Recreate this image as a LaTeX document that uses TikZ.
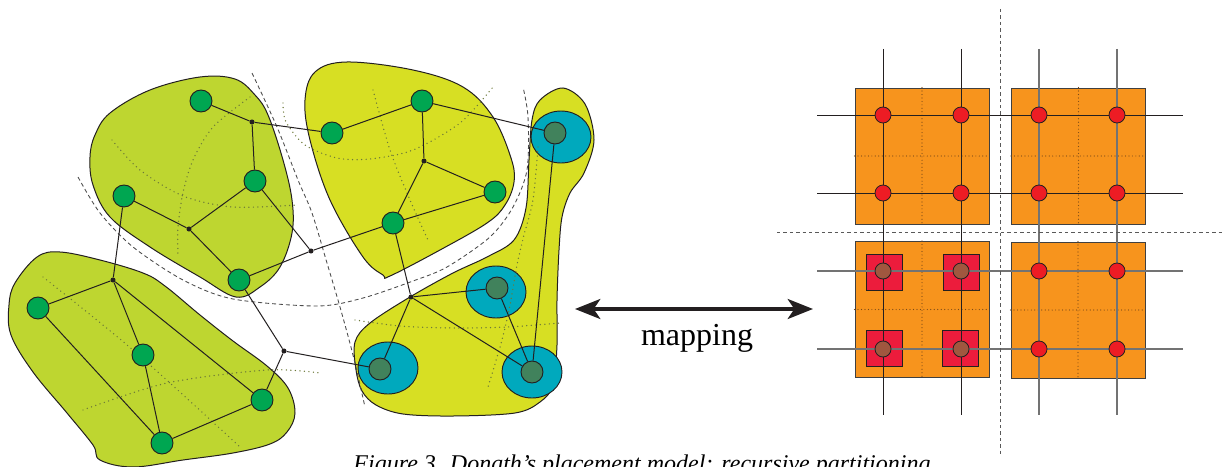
\documentclass[tikz,border=0pt]{standalone}
\usepackage{fontspec}
\setmainfont{Liberation Serif}
\usetikzlibrary{shapes.geometric,arrows.meta}

\definecolor{limeblob}{HTML}{BED630}
\definecolor{yelblob}{HTML}{D7DF23}
\definecolor{nodegreen}{HTML}{00A651}
\definecolor{tealring}{HTML}{00A9BD}
\definecolor{darkcore}{HTML}{41825C}
\definecolor{gridorange}{HTML}{F7941D}
\definecolor{pinred}{HTML}{ED1C24}
\definecolor{cellred}{HTML}{EC1C3C}
\definecolor{corebrown}{HTML}{A0573F}
\definecolor{inkline}{HTML}{231F20}
\definecolor{cutdot}{HTML}{6C7838}
\definecolor{celldot}{HTML}{7A4A18}

\tikzset{
  blobline/.style={draw=inkline, line width=0.75pt},
  cutdash/.style={draw=black!70, line width=0.65pt, dash pattern=on 3pt off 2.2pt},
  cutdots/.style={draw=cutdot, line width=1.1pt, line cap=round, dash pattern=on 0pt off 3.4pt},
  celldots/.style={draw=celldot, line width=0.9pt, line cap=round, dash pattern=on 0pt off 2.6pt},
  wire/.style={draw=inkline, line width=0.75pt},
  gnode/.style={circle, fill=nodegreen, draw=inkline, line width=0.7pt, minimum size=16.5pt, inner sep=0pt},
  jnode/.style={circle, fill=inkline, minimum size=3.8pt, inner sep=0pt},
  ring/.style={ellipse, fill=tealring, draw=inkline, line width=0.7pt, minimum width=45pt, minimum height=39pt, inner sep=0pt},
  core/.style={circle, fill=darkcore, draw=inkline, line width=0.7pt, minimum size=16.5pt, inner sep=0pt},
  cell/.style={rectangle, fill=gridorange, draw=black!75, line width=0.7pt, minimum width=100.5pt, minimum height=102pt, inner sep=0pt},
  pin/.style={circle, fill=pinred, draw=inkline, line width=0.6pt, minimum size=12pt, inner sep=0pt},
  bpin/.style={circle, fill=corebrown, draw=inkline, line width=0.6pt, minimum size=12pt, inner sep=0pt},
  slot/.style={rectangle, fill=cellred, draw=inkline, line width=0.6pt, minimum size=27pt, inner sep=0pt},
  darkrail/.style={draw=inkline, line width=0.75pt},
  greyrail/.style={draw=black!55, line width=0.9pt},
  griddash/.style={draw=black!65, line width=0.65pt, dash pattern=on 2.6pt off 2.2pt},
}

\begin{document}
\begin{tikzpicture}[x=0.75pt,y=-0.75pt]
\clip (0,0) rectangle (1230,467);
\fill[white] (0,0) rectangle (1230,467);

% ---------- partitioned netlist ----------
% clusters
\draw[blobline, fill=limeblob] plot[smooth cycle, tension=0.6] coordinates {
  (110,113) (150,90) (200,77) (235,79) (255,95) (268,115) (283,160) (292,200)
  (292,233) (280,267) (260,287) (236,297) (200,277) (150,247) (110,217)
  (93,185) (90,157) (95,135)};
\draw[blobline, fill=limeblob] plot[smooth cycle, tension=0.6] coordinates {
  (37,257) (60,252) (100,260) (143,273) (165,286) (200,315) (233,341) (267,366)
  (288,388) (295,413) (287,432) (270,444) (233,453) (183,460) (133,467)
  (100,460) (93,445) (67,413) (33,372) (11,335) (9,305) (15,283)};
\draw[blobline, fill=yelblob] plot[smooth cycle, tension=0.6] coordinates {
  (305,100) (315,72) (347,62) (413,70) (463,87) (493,117) (511,158) (514,182)
  (505,205) (487,223) (440,250) (390,276) (383,275) (363,257) (330,200)
  (310,140)};
\draw[blobline, fill=yelblob] plot[smooth cycle, tension=0.55] coordinates {
  (540,100) (563,88) (585,104) (594,140) (584,173) (570,193) (562,217)
  (559,250) (557,300) (557,345) (553,385) (540,402) (515,413) (453,416)
  (403,414) (376,405) (362,391) (356,370) (355,342) (370,323) (410,297)
  (453,273) (487,257) (514,240) (526,208) (529,160) (532,120)};

% inner terminals of the right cluster
\node[ring] (e1) at (561,137) {};
\node[ring] (e2) at (496,292) {};
\node[ring] (e3) at (388,368) {};
\node[ring] (e4) at (532,372) {};

% second-level cut lines
\draw[cutdots] plot[smooth] coordinates {(112,140) (140,170) (183,196) (233,207) (297,205)};
\draw[cutdots] plot[smooth] coordinates {(250,97) (213,127) (193,160) (183,193) (178,227) (178,257)};
\draw[cutdots] plot[smooth] coordinates {(283,103) (286,122) (305,145) (337,158) (370,159) (413,150) (460,123) (493,87)};
\draw[cutdots] plot[smooth] coordinates {(373,90) (390,150) (410,200) (428,240)};
\draw[cutdots] plot[smooth] coordinates {(43,277) (133,350) (240,447)};
\draw[cutdots] plot[smooth] coordinates {(83,410) (167,383) (267,370) (320,373)};
\draw[cutdots] plot[smooth] coordinates {(355,320) (400,326) (453,328) (507,327) (560,323)};
\draw[cutdots] plot[smooth] coordinates {(538,147) (533,200) (524,235) (517,265) (510,305) (502,340) (488,387)};

% first-level cut lines
\draw[cutdash] plot[smooth] coordinates {(78,177) (100,213) (133,247) (183,280) (233,299)
  (317,306) (363,298) (413,281) (447,267) (490,237) (513,207) (527,170) (528,117) (523,87)};
\draw[cutdash] plot[smooth] coordinates {(252,73) (277,127) (298,180) (312,213) (327,263)
  (340,307) (353,355) (365,407)};

% cells
\node[gnode] (g1) at (201,101) {};
\node[gnode] (g2) at (332,133) {};
\node[gnode] (g3) at (422,101) {};
\node[gnode] (g4) at (255,181) {};
\node[gnode] (g5) at (124,196) {};
\node[gnode] (g6) at (495,192) {};
\node[gnode] (g7) at (393,223) {};
\node[gnode] (g8) at (239,280) {};
\node[gnode] (g9) at (38,308) {};
\node[gnode] (g10) at (143,355) {};
\node[gnode] (g11) at (262,400) {};
\node[gnode] (g12) at (162,443) {};
\node[core] (t1) at (555,133) {};
\node[core] (t2) at (497,288) {};
\node[core] (t3) at (380,369) {};
\node[core] (t4) at (532,372) {};

% net junctions
\node[jnode] (j1) at (252,122) {};
\node[jnode] (j2) at (189,229) {};
\node[jnode] (j3) at (311,251) {};
\node[jnode] (j4) at (113,280) {};
\node[jnode] (j5) at (284,351) {};
\node[jnode] (j6) at (424,161) {};
\node[jnode] (j7) at (411,297) {};

% nets
\draw[wire] (g1) -- (j1) -- (g2);
\draw[wire] (j1) -- (g4);
\draw[wire] (g4) -- (j2);
\draw[wire] (g5) -- (j2) -- (g8);
\draw[wire] (g4) -- (j3);
\draw[wire] (g8) -- (j3) -- (g7);
\draw[wire] (g5) -- (j4) -- (g9);
\draw[wire] (j4) -- (g10);
\draw[wire] (j4) -- (g11);
\draw[wire] (g9) -- (g12);
\draw[wire] (g10) -- (g12);
\draw[wire] (g12) -- (g11);
\draw[wire] (g11) -- (j5);
\draw[wire] (g8) -- (j5) -- (t3);
\draw[wire] (g2) -- (g3);
\draw[wire] (g3) -- (j6) -- (g6);
\draw[wire] (j6) -- (g7);
\draw[wire] (g7) -- (g6);
\draw[wire] (g3) -- (t1);
\draw[wire] (g7) -- (j7) -- (t2);
\draw[wire] (j7) -- (t3);
\draw[wire] (j7) -- (t4);
\draw[wire] (t2) -- (t4);
\draw[wire] (t1) -- (t4);

% ---------- mapping arrow ----------
\coordinate (mapL) at (575,309);
\coordinate (mapR) at (813,309);
\draw[draw=inkline, line width=2.6pt, {Stealth[length=19pt,width=15pt,inset=5pt]}-{Stealth[length=19pt,width=15pt,inset=5pt]}] (mapL) -- (mapR);
\node[anchor=base, font=\fontsize{24}{28}\selectfont, inner sep=0pt] (maplbl) at (697,345) {mapping};

% ---------- slot array ----------
\node[cell] (c11) at (922,156) {};
\node[cell] (c12) at (1078.5,156) {};
\node[cell] (c21) at (922,309.5) {};
\node[cell] (c22) at (1078,310) {};
\foreach \c in {c11,c12,c21,c22}{
  \draw[celldots] (\c.north) -- (\c.south);
  \draw[celldots] (\c.west) -- (\c.east);
}

\node[slot] (s1) at (884,272) {};
\node[slot] (s2) at (961.5,272) {};
\node[slot] (s3) at (884.5,348) {};
\node[slot] (s4) at (960.5,348.5) {};

% rails
\coordinate (v1n) at (883,49);  \coordinate (v1s) at (883,415);
\coordinate (v2n) at (961,49);  \coordinate (v2s) at (961,415);
\coordinate (v3n) at (1039,49); \coordinate (v3s) at (1039,415);
\coordinate (v4n) at (1117,49); \coordinate (v4s) at (1117,415);
\coordinate (h1w) at (817,115); \coordinate (h1e) at (1183,115);
\coordinate (h2w) at (817,193); \coordinate (h2e) at (1183,193);
\coordinate (h3w) at (817,271); \coordinate (h3e) at (1183,271);
\coordinate (h4w) at (817,349); \coordinate (h4e) at (1183,349);
\draw[greyrail] (v3n) -- (v3s);
\draw[greyrail] (v4n) -- (v4s);
\draw[greyrail] (h3w) -- (h3e);
\draw[greyrail] (h4w) -- (h4e);
\draw[darkrail] (v1n) -- (v1s);
\draw[darkrail] (v2n) -- (v2s);
\draw[darkrail] (h1w) -- (h1e);
\draw[darkrail] (h2w) -- (h2e);

% quadrant cuts
\coordinate (qn) at (1000,9);   \coordinate (qs) at (1000,455);
\coordinate (qw) at (777,232);  \coordinate (qe) at (1223,232);
\draw[griddash] (qn) -- (qs);
\draw[griddash] (qw) -- (qe);

% pins
\foreach \x [count=\i] in {883,961,1039,1117}{
  \node[pin] (p1\i) at (\x,115) {};
  \node[pin] (p2\i) at (\x,193) {};
}
\foreach \x [count=\i from 3] in {1039,1117}{
  \node[pin] (p3\i) at (\x,271) {};
  \node[pin] (p4\i) at (\x,349) {};
}
\node[bpin] (b1) at (883,271) {};
\node[bpin] (b2) at (961,271) {};
\node[bpin] (b3) at (883,349) {};
\node[bpin] (b4) at (961,349) {};

% caption
\node[anchor=base, font=\itshape\fontsize{18}{22}\selectfont, inner sep=0pt] (cap) at (642,471)
  {Figure 3. Donath’s placement model: recursive partitioning};
\end{tikzpicture}
\end{document}
